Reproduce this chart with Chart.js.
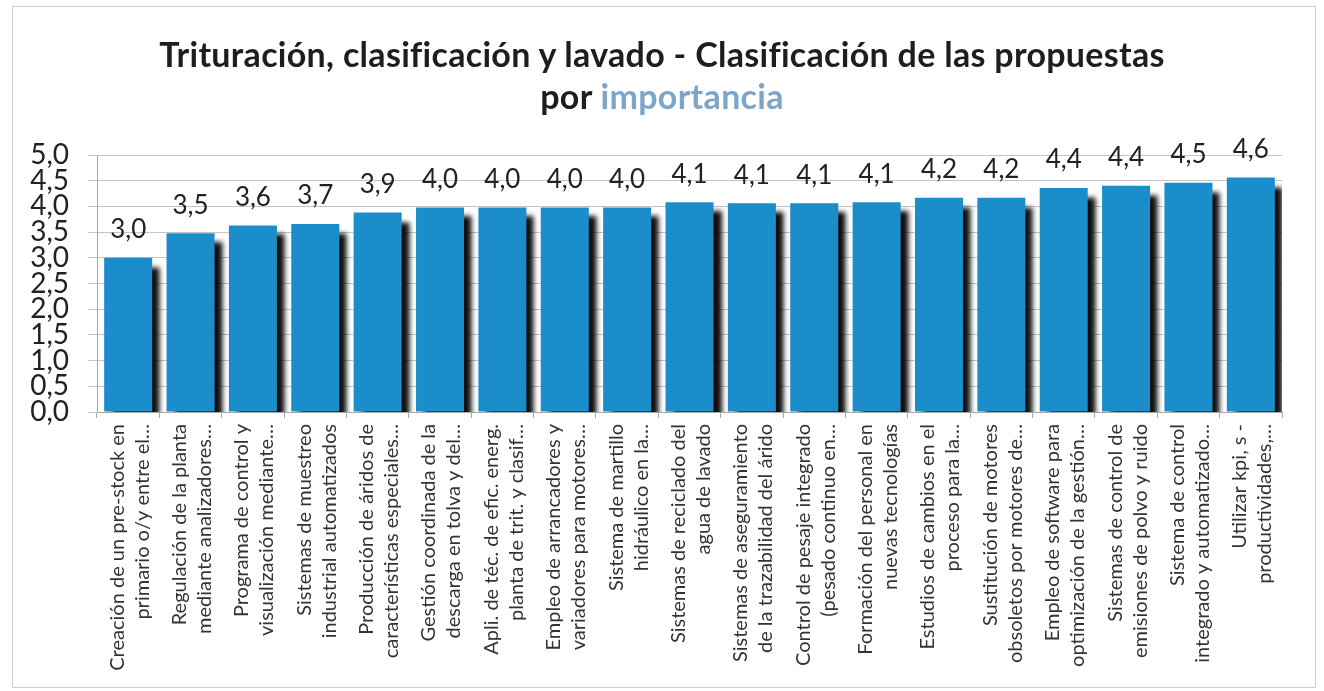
<!DOCTYPE html>
<html>
<head>
<meta charset="utf-8">
<script src="https://cdn.jsdelivr.net/npm/chart.js@4.4.1/dist/chart.umd.min.js"></script>
<style>
html,body{margin:0;padding:0;background:#fff;}
#wrap{position:relative;width:1324px;height:691px;overflow:hidden;background:#fff;}
#frame{position:absolute;left:12px;top:6px;width:1304px;height:682px;border:1px solid #cfcfcf;box-sizing:border-box;}
#title{position:absolute;left:0;top:33px;width:1324px;text-align:center;font-family:Lato,"Open Sans",sans-serif;font-weight:bold;font-size:34px;letter-spacing:0.3px;line-height:42px;color:#1e1e1e;}
#title .hl{color:#7ca5c9;}
canvas{position:absolute;left:0;top:0;}
</style>
</head>
<body>
<div id="wrap">
  <div id="frame"></div>
  <canvas id="c" width="1324" height="691"></canvas>
  <div id="title">Trituración, clasificación y lavado - Clasificación de las propuestas<br>por <span class="hl">importancia</span></div>
</div>
<script>
// ---- Data ----
const categories = [
  ["Creación de un pre-stock en", "primario o/y entre el…"],
  ["Regulación de la planta", "mediante analizadores…"],
  ["Programa de control y", "visualización mediante…"],
  ["Sistemas de muestreo", "industrial automatizados"],
  ["Producción de áridos de", "características especiales…"],
  ["Gestión coordinada de la", "descarga en tolva y del…"],
  ["Apli. de téc. de efic. energ.", "planta de trit. y clasif…"],
  ["Empleo de arrancadores y", "variadores para motores…"],
  ["Sistema de martillo", "hidráulico en la…"],
  ["Sistemas de reciclado del", "agua de lavado"],
  ["Sistemas de aseguramiento", "de la trazabilidad del árido"],
  ["Control de pesaje integrado", "(pesado continuo en…"],
  ["Formación del personal en", "nuevas tecnologías"],
  ["Estudios de cambios en el", "proceso para la…"],
  ["Sustitución de motores", "obsoletos por motores de…"],
  ["Empleo de software para", "optimización de la gestión…"],
  ["Sistemas de control de", "emisiones de polvo y ruido"],
  ["Sistema de control", "integrado y automatizado…"],
  ["Utilizar kpi, s -", "productividades,…"]
];
const importancia = [3.00, 3.48, 3.63, 3.66, 3.88, 3.98, 3.98, 3.98, 3.98, 4.08, 4.06, 4.06, 4.08, 4.17, 4.17, 4.36, 4.40, 4.46, 4.56];
const yTicks = [0, 0.5, 1, 1.5, 2, 2.5, 3, 3.5, 4, 4.5, 5];

const fmt = v => v.toFixed(1).replace('.', ',');

const shadowPlugin = {
  id: 'barShadow',
  beforeDatasetDraw(chart) {
    const ctx = chart.ctx;
    ctx.save();
    ctx.shadowColor = 'rgba(0,0,0,0.95)';
    ctx.shadowBlur = 5;
    ctx.shadowOffsetX = 8;
    ctx.shadowOffsetY = 9;
  },
  afterDatasetDraw(chart) {
    chart.ctx.restore();
  }
};

const valueLabels = {
  id: 'valueLabels',
  afterDatasetsDraw(chart) {
    const ctx = chart.ctx;
    const meta = chart.getDatasetMeta(0);
    ctx.save();
    ctx.font = '26px Lato, "Open Sans", sans-serif';
    ctx.fillStyle = '#222';
    ctx.textAlign = 'center';
    ctx.textBaseline = 'middle';
    meta.data.forEach((bar, i) => {
      ctx.fillText(fmt(chart.data.datasets[0].data[i]), bar.x, bar.y - 28);
    });
    ctx.restore();
  }
};

new Chart(document.getElementById('c'), {
  type: 'bar',
  data: {
    labels: categories,
    datasets: [{
      data: importancia,
      backgroundColor: '#1b8dcb',
      borderWidth: 0,
      barPercentage: 0.77,
      categoryPercentage: 1.0
    }]
  },
  options: {
    responsive: false,
    animation: false,
    devicePixelRatio: 1,
    layout: { padding: { top: 155, right: 42, left: 0, bottom: 0 } },
    plugins: {
      legend: { display: false },
      title: { display: false },
      tooltip: { enabled: false }
    },
    scales: {
      y: {
        min: 0, max: 5,
        afterBuildTicks(scale) { scale.ticks = yTicks.map(v => ({ value: v })); },
        afterFit(scale) { scale.width = 97; },
        ticks: {
          autoSkip: false,
          padding: 19,
          color: '#222',
          font: { family: 'Lato, "Open Sans", sans-serif', size: 28 },
          callback: v => fmt(v)
        },
        grid: { color: '#c4c4c4', tickLength: 9, lineWidth: 1 },
        border: { color: '#a8a8a8' }
      },
      x: {
        afterFit(scale) { scale.height = 279; },
        ticks: {
          autoSkip: false,
          maxRotation: 90,
          minRotation: 90,
          padding: 6,
          labelOffset: -11,
          color: '#333',
          font: { family: 'Lato, "Open Sans", sans-serif', size: 20, lineHeight: 1.25 }
        },
        grid: { drawOnChartArea: false, offset: true, tickLength: 6, color: '#a8a8a8' },
        border: { color: '#a8a8a8' }
      }
    }
  },
  plugins: [shadowPlugin, valueLabels]
});
</script>
</body>
</html>
